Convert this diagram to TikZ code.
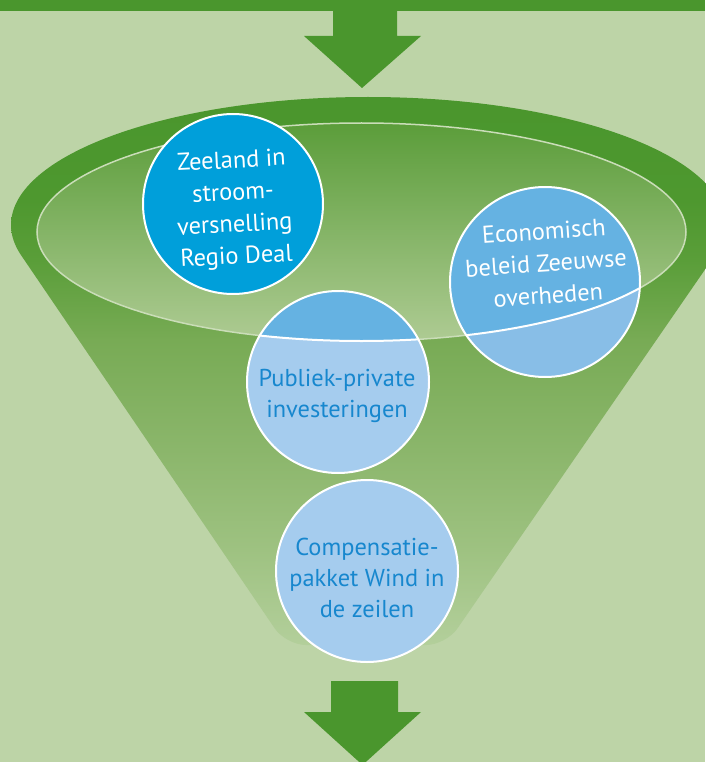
\documentclass[tikz,border=0pt]{standalone}
\usepackage{fontspec}
\setmainfont{PT Sans}
\definecolor{bg}{HTML}{BDD4A7}
\definecolor{dgreen}{HTML}{4A962D}
\definecolor{fz0}{HTML}{4A962D}
\definecolor{fz1}{HTML}{4E982F}
\definecolor{fz2}{HTML}{5A9E39}
\definecolor{fz3}{HTML}{78AB55}
\definecolor{fz4}{HTML}{8BB66B}
\definecolor{fz5}{HTML}{9EC281}
\definecolor{fz6}{HTML}{B3CF9B}
\definecolor{ie1}{HTML}{5B9D3A}
\definecolor{ie2}{HTML}{AECB93}
\definecolor{ieline}{HTML}{CADDB8}
\definecolor{bluedark}{HTML}{009FDA}
\definecolor{bluemid}{HTML}{65B2E2}
\definecolor{bluelight}{HTML}{A5CCEE}
\definecolor{bluelow}{HTML}{88BEE7}
\definecolor{textblue}{HTML}{1787CE}
\pgfdeclareverticalshading{funnelshade}{100bp}{color(0bp)=(fz6); color(25bp)=(fz6); color(33.7bp)=(fz5); color(42.8bp)=(fz4); color(52.8bp)=(fz3); color(60.1bp)=(fz2); color(65.6bp)=(fz1); color(75bp)=(fz0); color(100bp)=(fz0)}
\tikzset{
  bubble/.style={circle, inner sep=0pt, minimum size=#1},
  lbl/.style={align=center, inner sep=0pt, font=\fontsize{24.4}{32}\selectfont},
  ring/.style={white, line width=2pt},
}
\begin{document}
\begin{tikzpicture}[x=1pt, y=-1pt]
\useasboundingbox (0,0) rectangle (705,762);
\fill[bg] (0,0) rectangle (705,762);
% top bar and arrow
\fill[dgreen] (0,0) rectangle (705,11);
\fill[dgreen] (333,10) -- (397,10) -- (397,36) -- (421,36) -- (362,88) -- (304,36) -- (333,36) -- cycle;
% funnel
\shade[shading=funnelshade]
  ([shift={(368,225)}]194:357pt and 128pt)
  arc[start angle=194, end angle=180, x radius=357pt, y radius=128pt]
  arc[start angle=180, end angle=90, x radius=357pt, y radius=128pt]
  arc[start angle=90, end angle=0, x radius=357pt, y radius=128pt]
  arc[start angle=0, end angle=-14.3, x radius=357pt, y radius=128pt]
  [rounded corners=20pt] -- (446,645) -- (286,645) [sharp corners] -- cycle;
% inner ellipse
\shadedraw[top color=ie1, bottom color=ie2, draw=ieline, line width=1.5pt]
  (361.5,232) ellipse[x radius=324.5pt, y radius=109pt];
% bottom arrow
\fill[dgreen] (331,681) -- (398,681) -- (398,712) -- (421,712) -- (362.5,765) -- (304,712) -- (331,712) -- cycle;
% circle 1
\node[bubble=180pt, fill=bluedark, draw=white, line width=2pt] (z) at (233,204) {};
\node[lbl, text=white, rotate=3] (zt) at (234,210) {Zeeland in\\stroom-\\versnelling\\Regio Deal};
% circle 2
\node[bubble=190pt, fill=bluelow] (e) at (545,282) {};
\begin{scope}
  \clip (361.5,232) ellipse[x radius=324.5pt, y radius=109pt];
  \fill[bluemid] (e.center) circle[radius=95pt];
\end{scope}
\begin{scope}
  \clip (e.center) circle[radius=95pt];
  \draw[ring] (361.5,232) ellipse[x radius=324.5pt, y radius=109pt];
\end{scope}
\draw[ring] (e.center) circle[radius=95pt];
\node[lbl, text=white, rotate=4] (et) at (546,263) {Economisch\\beleid Zeeuwse\\overheden};
% circle 3
\node[bubble=182pt, fill=bluelight] (p) at (338,382) {};
\begin{scope}
  \clip (361.5,232) ellipse[x radius=324.5pt, y radius=109pt];
  \fill[bluemid] (p.center) circle[radius=91pt];
\end{scope}
\begin{scope}
  \clip (p.center) circle[radius=91pt];
  \draw[ring] (361.5,232) ellipse[x radius=324.5pt, y radius=109pt];
\end{scope}
\draw[ring] (p.center) circle[radius=91pt];
\node[lbl, text=textblue, font=\fontsize{24.4}{31}\selectfont] (pt) at (337,396) {Publiek-private\\investeringen};
% circle 4
\node[bubble=182pt, fill=bluelight, draw=white, line width=2pt] (c) at (367,571) {};
\node[lbl, text=textblue, font=\fontsize{24.4}{31}\selectfont] (ct) at (367,578) {Compensatie-\\pakket Wind in\\de zeilen};
\end{tikzpicture}
\end{document}
